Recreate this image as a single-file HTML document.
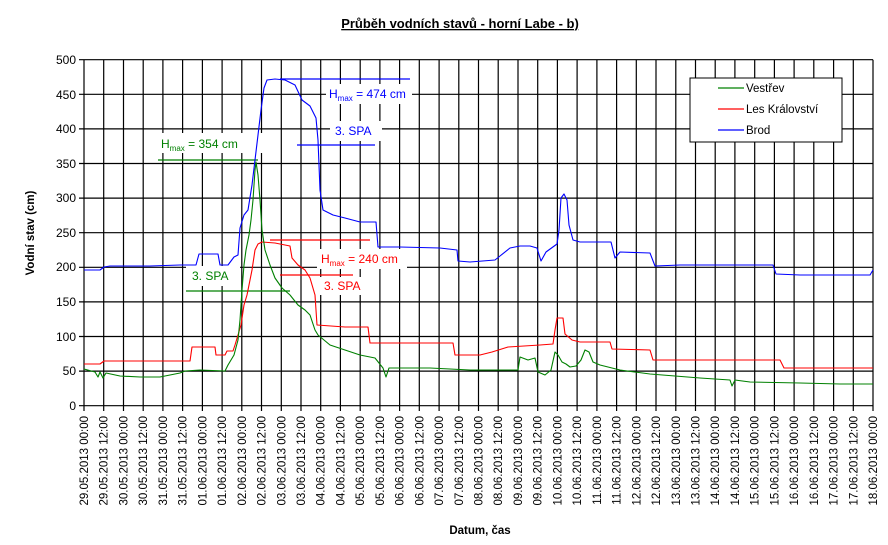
<!DOCTYPE html>
<html><head><meta charset="utf-8"><style>
body{margin:0;background:#fff}
svg{display:block;font-family:"Liberation Sans",Arial,sans-serif}
</style></head><body>
<svg width="888" height="545" viewBox="0 0 888 545" xmlns="http://www.w3.org/2000/svg">
<rect width="888" height="545" fill="#fff"/>
<text x="460" y="28" font-size="13" font-weight="bold" text-anchor="middle" text-decoration="underline">Průběh vodních stavů - horní Labe - b)</text>
<g stroke="#000" stroke-width="1.2" fill="none">
<path d="M84 59.7H873M84 94.3H873M84 128.9H873M84 163.5H873M84 198.1H873M84 232.7H873M84 267.3H873M84 301.9H873M84 336.5H873M84 371.1H873M84 405.7H873"/>
<path d="M84 59.7V411M103.7 59.7V411M123.5 59.7V411M143.2 59.7V411M162.9 59.7V411M182.6 59.7V411M202.4 59.7V411M222.1 59.7V411M241.8 59.7V411M261.5 59.7V411M281.3 59.7V411M301 59.7V411M320.7 59.7V411M340.4 59.7V411M360.2 59.7V411M379.9 59.7V411M399.6 59.7V411M419.3 59.7V411M439.1 59.7V411M458.8 59.7V411M478.5 59.7V411M498.2 59.7V411M518 59.7V411M537.7 59.7V411M557.4 59.7V411M577.1 59.7V411M596.9 59.7V411M616.6 59.7V411M636.3 59.7V411M656 59.7V411M675.8 59.7V411M695.5 59.7V411M715.2 59.7V411M734.9 59.7V411M754.7 59.7V411M774.4 59.7V411M794.1 59.7V411M813.8 59.7V411M833.6 59.7V411M853.3 59.7V411M873 59.7V411"/>
<path d="M79 59.7H84M79 94.3H84M79 128.9H84M79 163.5H84M79 198.1H84M79 232.7H84M79 267.3H84M79 301.9H84M79 336.5H84M79 371.1H84M79 405.7H84"/>
</g>
<g font-size="12" text-anchor="end">
<text x="76" y="64">500</text><text x="76" y="99">450</text><text x="76" y="133">400</text><text x="76" y="168">350</text><text x="76" y="202">300</text><text x="76" y="237">250</text><text x="76" y="271">200</text><text x="76" y="306">150</text><text x="76" y="341">100</text><text x="76" y="375">50</text><text x="76" y="410">0</text>
</g>
<text transform="translate(34,233) rotate(-90)" font-size="11.5" font-weight="bold" text-anchor="middle">Vodní stav (cm)</text>
<text x="480" y="534" font-size="11.5" font-weight="bold" text-anchor="middle">Datum, čas</text>
<g font-size="11.5" text-anchor="end">
<text transform="translate(88,416) rotate(-90)">29.05.2013 00:00</text>
<text transform="translate(107.7,416) rotate(-90)">29.05.2013 12:00</text>
<text transform="translate(127.5,416) rotate(-90)">30.05.2013 00:00</text>
<text transform="translate(147.2,416) rotate(-90)">30.05.2013 12:00</text>
<text transform="translate(166.9,416) rotate(-90)">31.05.2013 00:00</text>
<text transform="translate(186.6,416) rotate(-90)">31.05.2013 12:00</text>
<text transform="translate(206.4,416) rotate(-90)">01.06.2013 00:00</text>
<text transform="translate(226.1,416) rotate(-90)">01.06.2013 12:00</text>
<text transform="translate(245.8,416) rotate(-90)">02.06.2013 00:00</text>
<text transform="translate(265.5,416) rotate(-90)">02.06.2013 12:00</text>
<text transform="translate(285.3,416) rotate(-90)">03.06.2013 00:00</text>
<text transform="translate(305,416) rotate(-90)">03.06.2013 12:00</text>
<text transform="translate(324.7,416) rotate(-90)">04.06.2013 00:00</text>
<text transform="translate(344.4,416) rotate(-90)">04.06.2013 12:00</text>
<text transform="translate(364.2,416) rotate(-90)">05.06.2013 00:00</text>
<text transform="translate(383.9,416) rotate(-90)">05.06.2013 12:00</text>
<text transform="translate(403.6,416) rotate(-90)">06.06.2013 00:00</text>
<text transform="translate(423.3,416) rotate(-90)">06.06.2013 12:00</text>
<text transform="translate(443.1,416) rotate(-90)">07.06.2013 00:00</text>
<text transform="translate(462.8,416) rotate(-90)">07.06.2013 12:00</text>
<text transform="translate(482.5,416) rotate(-90)">08.06.2013 00:00</text>
<text transform="translate(502.2,416) rotate(-90)">08.06.2013 12:00</text>
<text transform="translate(522,416) rotate(-90)">09.06.2013 00:00</text>
<text transform="translate(541.7,416) rotate(-90)">09.06.2013 12:00</text>
<text transform="translate(561.4,416) rotate(-90)">10.06.2013 00:00</text>
<text transform="translate(581.1,416) rotate(-90)">10.06.2013 12:00</text>
<text transform="translate(600.9,416) rotate(-90)">11.06.2013 00:00</text>
<text transform="translate(620.6,416) rotate(-90)">11.06.2013 12:00</text>
<text transform="translate(640.3,416) rotate(-90)">12.06.2013 00:00</text>
<text transform="translate(660,416) rotate(-90)">12.06.2013 12:00</text>
<text transform="translate(679.8,416) rotate(-90)">13.06.2013 00:00</text>
<text transform="translate(699.5,416) rotate(-90)">13.06.2013 12:00</text>
<text transform="translate(719.2,416) rotate(-90)">14.06.2013 00:00</text>
<text transform="translate(738.9,416) rotate(-90)">14.06.2013 12:00</text>
<text transform="translate(758.7,416) rotate(-90)">15.06.2013 00:00</text>
<text transform="translate(778.4,416) rotate(-90)">15.06.2013 12:00</text>
<text transform="translate(798.1,416) rotate(-90)">16.06.2013 00:00</text>
<text transform="translate(817.8,416) rotate(-90)">16.06.2013 12:00</text>
<text transform="translate(837.6,416) rotate(-90)">17.06.2013 00:00</text>
<text transform="translate(857.3,416) rotate(-90)">17.06.2013 12:00</text>
<text transform="translate(877,416) rotate(-90)">18.06.2013 00:00</text>
</g>
<g>
<rect x="158" y="133" width="112" height="20" fill="#fff"/>
<line x1="158" y1="160" x2="258" y2="160" stroke="#008000" stroke-width="1.2"/>
<text x="161" y="148" font-size="12" fill="#008000">H<tspan font-size="8" dy="3">max</tspan><tspan dy="-3"> = 354 cm</tspan></text>
<rect x="186" y="266" width="54" height="20" fill="#fff"/>
<text x="192" y="280" font-size="12" fill="#008000">3. SPA</text>
<line x1="186" y1="291" x2="290" y2="291" stroke="#008000" stroke-width="1.2"/>
<line x1="280" y1="79" x2="410" y2="79" stroke="#0000ff" stroke-width="1.2"/>
<rect x="326" y="84" width="86" height="20" fill="#fff"/>
<text x="329" y="98" font-size="12" fill="#0000ff">H<tspan font-size="8" dy="3">max</tspan><tspan dy="-3"> = 474 cm</tspan></text>
<rect x="330" y="121" width="52" height="20" fill="#fff"/>
<text x="335" y="135" font-size="12" fill="#0000ff">3. SPA</text>
<line x1="297" y1="145" x2="375" y2="145" stroke="#0000ff" stroke-width="1.2"/>
<line x1="270" y1="240" x2="370" y2="240" stroke="#ff0000" stroke-width="1.2"/>
<rect x="317" y="249" width="90" height="20" fill="#fff"/>
<text x="321" y="263" font-size="12" fill="#ff0000">H<tspan font-size="8" dy="3">max</tspan><tspan dy="-3"> = 240 cm</tspan></text>
<line x1="280" y1="275" x2="353" y2="275" stroke="#ff0000" stroke-width="1.2"/>
<rect x="320" y="277" width="48" height="18" fill="#fff"/>
<text x="324" y="290" font-size="12" fill="#ff0000">3. SPA</text>
</g>
<g fill="none" stroke-width="1.1" stroke-linejoin="round">
<polyline stroke="#0000ff" points="84,270 100,270 104,267 110,266 150,266 180,265 196,265 199,254 213,254 218,254 220,265 228,265 234,257 238,255 240,228 244,215 248,210 252,185 255,160 258,135 261,110 264,88 267,80 275,79 285,80 295,85 302,100 310,106 316,118 318,140 320,190 323,210 333,215 345,218 360,222 376,222 378,247 400,247 440,248 457,250 458,261 470,262 495,260 500,256 510,248 520,246 530,246 537,248 541,261 546,252 557,244 559,230 561,198 564,194 567,200 569,225 573,240 580,242 611,242 615,258 620,252 650,253 655,266 680,265 773,265 776,274 800,275 870,275 873,270"/>
<polyline stroke="#ff0000" points="84,364 100,364 104,361 190,361 192,347 215,347 216,355 225,355 227,351 233,351 235,345 238,335 241,325 244,305 247,295 252,270 255,250 258,244 262,242 275,243 285,245 290,246 292,258 298,265 305,270 310,278 315,295 317,325 345,327 368,327 370,343 453,343 455,355 480,355 492,352 508,347 540,345 553,344 555,330 557,318 563,318 565,334 572,340 580,342 610,342 612,349 650,350 653,360 780,360 784,368 873,368"/>
<polyline stroke="#008000" points="84,369 95,372 98,377 100,372 103,378 106,373 120,376 140,377 160,377 170,375 180,373 185,371 200,370 225,371 228,365 234,355 238,340 240,320 242,290 244,265 246,250 249,235 251,220 253,200 255,170 256,162 258,175 260,200 262,230 265,250 270,265 275,278 282,288 290,295 298,305 305,310 310,315 315,330 318,335 330,345 345,350 360,355 375,358 383,368 386,377 389,368 410,368 430,368 470,370 500,370 518,370 520,357 528,360 535,358 538,372 545,375 551,370 555,352 558,355 562,362 566,364 570,367 576,366 581,360 585,350 589,352 593,362 600,365 620,370 650,374 700,378 730,380 732,386 735,380 750,382 800,383 840,384 873,384"/>
</g>
<g>
<rect x="690" y="78" width="152" height="64" fill="#fff" stroke="#000" stroke-width="1"/>
<line x1="718" y1="88" x2="744" y2="88" stroke="#008000" stroke-width="1.2"/>
<line x1="718" y1="109" x2="744" y2="109" stroke="#ff0000" stroke-width="1.2"/>
<line x1="718" y1="130" x2="744" y2="130" stroke="#0000ff" stroke-width="1.2"/>
<text x="746" y="92" font-size="11.5">Vestřev</text>
<text x="746" y="113" font-size="11.5">Les Království</text>
<text x="746" y="134" font-size="11.5">Brod</text>
</g>
</svg>
</body></html>
